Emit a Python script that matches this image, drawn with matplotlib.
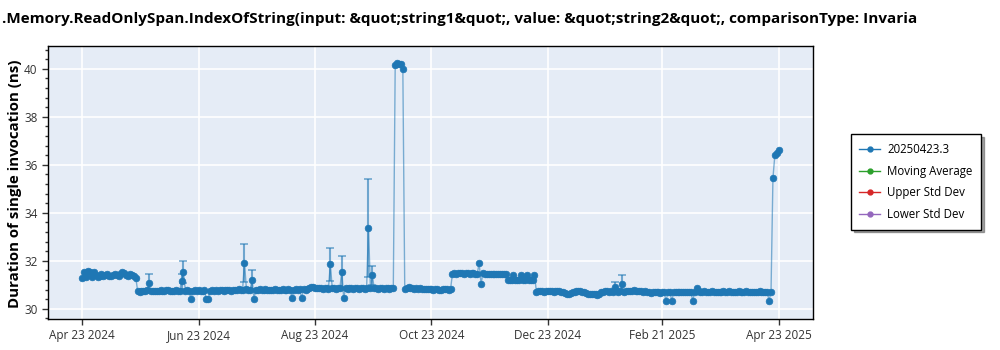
import pandas as pd
import matplotlib
matplotlib.use('Agg')
import matplotlib.pyplot as plt
from matplotlib.lines import Line2D
from matplotlib.ticker import MultipleLocator, AutoMinorLocator

# Daily benchmark results (ns), one value per day starting 2024-04-23
start_date = '2024-04-23'
durations = [
    # 0-9
    31.30, 31.55, 31.32, 31.56, 31.52, 31.34, 31.55, 31.40, 31.32, 31.38,
    # 10-19
    31.45, 31.36, 31.40, 31.44, 31.38, 31.35, 31.42, 31.46, 31.40, 31.37,
    # 20-29
    31.43, 31.52, 31.48, 31.40, 31.38, 31.46, 31.42, 31.36, 31.30, 30.74,
    # 30-39
    30.72, 30.76, 30.75, 30.73, 30.77, 31.07, 30.74, 30.76, 30.75, 30.73,
    # 40-49
    30.76, 30.78, 30.74, 30.75, 30.77, 30.80, 30.76, 30.74, 30.75, 30.77,
    # 50-59
    30.76, 30.74, 31.15, 31.54, 30.76, 30.78, 30.75, 30.40, 30.76, 30.77,
    # 60-69
    30.75, 30.78, 30.76, 30.74, 30.77, 30.40, 30.40, 30.76, 30.78, 30.75,
    # 70-79
    30.77, 30.76, 30.79, 30.77, 30.75, 30.78, 30.80, 30.77, 30.76, 30.78,
    # 80-89
    30.77, 30.79, 30.81, 30.78, 30.80, 31.92, 30.82, 30.79, 30.80, 31.21,
    # 90-99
    30.42, 30.80, 30.78, 30.81, 30.79, 30.80, 30.82, 30.79, 30.78, 30.80,
    # 100-109
    30.79, 30.81, 30.80, 30.78, 30.80, 30.82, 30.80, 30.79, 30.81, 30.80,
    # 110-119
    30.46, 30.80, 30.82, 30.79, 30.81, 30.45, 30.82, 30.80, 30.83, 30.85,
    # 120-129
    30.90, 30.92, 30.88, 30.86, 30.85, 30.87, 30.84, 30.85, 30.86, 30.84,
    # 130-139
    31.85, 30.85, 30.86, 30.84, 30.85, 30.87, 31.54, 30.46, 30.85, 30.84,
    # 140-149
    30.86, 30.85, 30.83, 30.85, 30.87, 30.84, 30.85, 30.86, 30.84, 30.85,
    # 150-159
    33.37, 30.86, 31.39, 30.85, 30.87, 30.84, 30.86, 30.85, 30.83, 30.86,
    # 160-169
    30.85, 30.84, 30.87, 30.85, 40.18, 40.25, 40.22, 40.20, 40.00, 30.84,
    # 170-179
    30.88, 30.90, 30.86, 30.85, 30.84, 30.86, 30.83, 30.85, 30.84, 30.82,
    # 180-189
    30.84, 30.83, 30.81, 30.82, 30.80, 30.82, 30.81, 30.79, 30.80, 30.82,
    # 190-199
    30.84, 30.81, 30.80, 30.82, 31.45, 31.48, 31.47, 31.49, 31.50, 31.48,
    # 200-209
    31.47, 31.49, 31.48, 31.46, 31.48, 31.50, 31.47, 31.46, 31.90, 31.04,
    # 210-219
    31.48, 31.46, 31.45, 31.47, 31.44, 31.46, 31.45, 31.47, 31.44, 31.46,
    # 220-229
    31.45, 31.43, 31.44, 31.22, 31.20, 31.18, 31.42, 31.19, 31.21, 31.20,
    # 230-239
    31.42, 31.18, 31.20, 31.42, 31.21, 31.19, 31.20, 31.42, 30.72, 30.74,
    # 240-249
    30.73, 30.75, 30.72, 30.74, 30.73, 30.75, 30.74, 30.72, 30.73, 30.75,
    # 250-259
    30.73, 30.71, 30.70, 30.66, 30.60, 30.62, 30.66, 30.70, 30.72, 30.74,
    # 260-269
    30.76, 30.73, 30.72, 30.70, 30.66, 30.62, 30.60, 30.61, 30.63, 30.60,
    # 270-279
    30.58, 30.62, 30.68, 30.72, 30.76, 30.74, 30.72, 30.75, 30.70, 30.92,
    # 280-289
    30.74, 30.72, 30.73, 31.05, 30.71, 30.74, 30.76, 30.73, 30.75, 30.77,
    # 290-299
    30.74, 30.76, 30.73, 30.75, 30.72, 30.74, 30.71, 30.68, 30.66, 30.68,
    # 300-309
    30.70, 30.68, 30.69, 30.67, 30.70, 30.68, 30.33, 30.69, 30.70, 30.33,
    # 310-319
    30.68, 30.70, 30.72, 30.70, 30.68, 30.71, 30.69, 30.70, 30.72, 30.70,
    # 320-329
    30.33, 30.70, 30.88, 30.74, 30.72, 30.70, 30.73, 30.71, 30.70, 30.72,
    # 330-339
    30.74, 30.71, 30.70, 30.72, 30.69, 30.71, 30.73, 30.70, 30.72, 30.74,
    # 340-349
    30.71, 30.69, 30.72, 30.70, 30.73, 30.71, 30.70, 30.72, 30.74, 30.71,
    # 350-359
    30.70, 30.72, 30.70, 30.69, 30.71, 30.73, 30.70, 30.68, 30.71, 30.70,
    # 360-365
    30.33, 30.72, 35.45, 36.40, 36.50, 36.62,
]

# Runs whose spread is large enough to show an error bar
err_index = [35, 52, 53, 85, 89, 130, 136, 150, 152, 279, 283]
err_size = [0.36, 0.32, 0.47, 0.80, 0.39, 0.70, 0.68, 2.05, 0.39, 0.20, 0.34]

tick_dates = ['2024-04-23', '2024-06-23', '2024-08-23', '2024-10-23',
              '2024-12-23', '2025-02-21', '2025-04-23']
tick_labels = ['Apr 23 2024', 'Jun 23 2024', 'Aug 23 2024', 'Oct 23 2024',
               'Dec 23 2024', 'Feb 21 2025', 'Apr 23 2025']

series_names = ['20250423.3', 'Moving Average', 'Upper Std Dev', 'Lower Std Dev']
series_colors = ['#1f77b4', '#2ca02c', '#d62728', '#9467bd']

title = ('.Memory.ReadOnlySpan.IndexOfString(input: &quot;string1&quot;, '
         'value: &quot;string2&quot;, comparisonType: Invaria')

FONT = 'Open Sans'
plt.rcParams['font.family'] = [FONT, 'DejaVu Sans']

dates = pd.date_range(start_date, periods=len(durations), freq='D')

fig = plt.figure(figsize=(10, 3.5), dpi=100)
ax = fig.add_axes([0.048, 0.089, 0.765, 0.78])
ax.set_facecolor('#e5ecf6')

blue = series_colors[0]
ax.plot(dates, durations, color=(0.122, 0.467, 0.706, 0.55), linewidth=1.0,
        marker='o', markersize=4.8, markerfacecolor=blue, markeredgecolor=blue,
        markeredgewidth=0.5, zorder=3)

err_dates = [dates[i] for i in err_index]
err_vals = [durations[i] for i in err_index]
ax.errorbar(err_dates, err_vals, yerr=err_size, fmt='none', ecolor=blue,
            elinewidth=1.5, capsize=3, capthick=1.2, alpha=0.6, zorder=2)

ax.set_xlim(pd.Timestamp(tick_dates[0]) - pd.Timedelta(days=18),
            pd.Timestamp(tick_dates[-1]) + pd.Timedelta(days=18))
ax.set_ylim(29.58, 40.96)

ax.set_xticks(pd.to_datetime(tick_dates))
ax.set_xticklabels(tick_labels)
ax.yaxis.set_major_locator(MultipleLocator(2))
ax.yaxis.set_minor_locator(AutoMinorLocator(5))
ax.tick_params(axis='both', which='major', labelsize=8.5, colors='#333333',
               length=4, width=1)
ax.tick_params(axis='y', which='minor', length=2, width=1, colors='#333333')
for lbl in ax.get_xticklabels() + ax.get_yticklabels():
    lbl.set_color('#333333')

ax.grid(True, which='major', color='white', linewidth=1.2)
ax.set_axisbelow(True)
for side in ax.spines.values():
    side.set_color('black')
    side.set_linewidth(1.0)

fig.text(0.002, 0.946, title, ha='left', va='center',
         fontsize=11, fontweight='bold', color='black')
fig.text(0.015, 0.474, 'Duration of single invocation (ns)', rotation=90,
         ha='center', va='center', fontsize=10.8, fontweight='bold')

handles = [Line2D([0], [0], color=c, linewidth=1, marker='o', markersize=3.5)
           for c in series_colors]
leg = fig.legend(handles, series_names, loc='center left',
                 bbox_to_anchor=(0.845, 0.48), fontsize=8.3, frameon=True,
                 fancybox=False, shadow=True, framealpha=1,
                 edgecolor='black', handlelength=1.8, borderpad=0.75,
                 labelspacing=0.75, handletextpad=0.6)
leg.get_frame().set_linewidth(1.0)

fig.savefig('out.png', dpi=100, facecolor='white')
